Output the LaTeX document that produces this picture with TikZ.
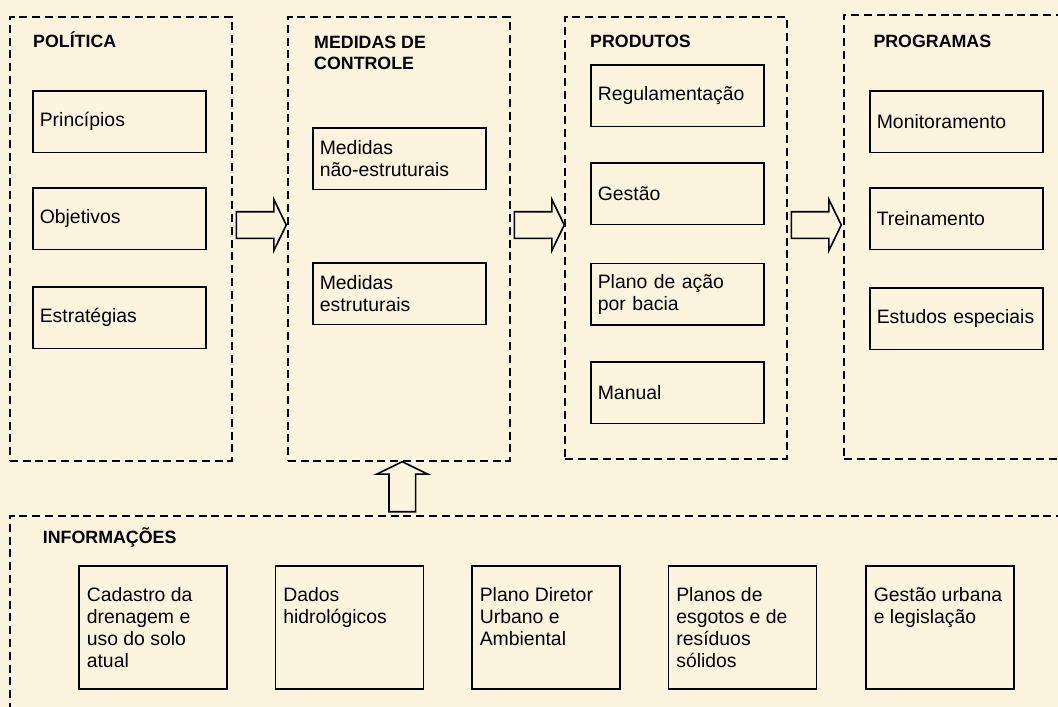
\documentclass[tikz,border=0pt]{standalone}
\usepackage{fontspec}
\setmainfont{Liberation Sans}
\usetikzlibrary{shapes.arrows,calc}
\definecolor{paper}{HTML}{FDF4E0}

\begin{document}
\begin{tikzpicture}[
    x=1pt, y=-1pt,
    every node/.style={font=\fontsize{19.4}{22}\selectfont},
    group/.style={draw, dash pattern=on 8pt off 4.8pt, line width=1.5pt, anchor=north west, minimum width=222pt, minimum height=444pt, inner sep=0pt},
    title/.style={anchor=base west, align=left, inner sep=0pt, font=\fontsize{17.8}{21.6}\selectfont\bfseries},
    box/.style={draw, line width=1.6pt, anchor=north west, minimum width=173pt, minimum height=61.5pt, text width=159pt, inner xsep=7pt, align=left},
    infobox/.style={draw, line width=1.6pt, anchor=north west, minimum width=148pt, minimum height=123pt, inner xsep=8pt, inner ysep=22pt},
    bigarrow/.style={single arrow, draw, line width=1.6pt, anchor=tail, minimum width=0pt, minimum height=50pt, inner ysep=12.5pt, inner xsep=0pt, single arrow head extend=12.25pt, single arrow tip angle=128}
]
    \fill[paper] (0,0) rectangle (1058,707);
    \useasboundingbox (0,0) rectangle (1058,707);
    \clip (0,0) rectangle (1058,707);

    % groups
    \node[group] (pol) at (9,16) {};
    \node[group] (med) at (287,16) {};
    \node[group, minimum height=442pt] (prod) at (564,16) {};
    \node[group, minimum width=240pt] (prog) at (843,14) {};
    \node[group, minimum width=1070pt, minimum height=220pt] (info) at (9,515) {};

    \node[title] (polt) at (33,47.7) {POLÍTICA};
    \node[title, anchor=north west] (medt) at (314,35.5) {MEDIDAS DE\\CONTROLE};
    \node[title] (prodt) at (590,47.7) {PRODUTOS};
    \node[title] (progt) at (873.3,47.7) {PROGRAMAS};
    \node[title] (infot) at (42.7,543.3) {INFORMAÇÕES};

    % politica
    \node[box] (princ) at (32,90) {Princípios};
    \node[box] (obj) at (32,187) {Objetivos};
    \node[box] (estr) at (32,286) {Estratégias};

    % medidas de controle
    \node[box] (naoestr) at (312,127) {Medidas\\não-estruturais};
    \node[box] (estrut) at (312,262) {Medidas\\estruturais};

    % produtos
    \node[box] (regul) at (590,64) {Regulamentação};
    \node[box] (gest) at (590,162) {Gestão};
    \node[box] (plano) at (590,262.5) {Plano de ação\\por bacia};
    \node[box] (manual) at (590,361) {Manual};

    % programas
    \node[box] (monit) at (869,90) {Monitoramento};
    \node[box] (trein) at (869,187) {Treinamento};
    \node[box] (estud) at (869,287) {Estudos especiais};

    % informacoes
    \node[infobox] (cad) at (78,565) {\parbox[t][79pt][t]{132pt}{Cadastro da\\drenagem e\\uso do solo\\atual}};
    \node[infobox] (dados) at (274.5,565) {\parbox[t][79pt][t]{132pt}{Dados\\hidrológicos}};
    \node[infobox] (pdua) at (471,565) {\parbox[t][79pt][t]{132pt}{Plano Diretor\\Urbano e\\Ambiental}};
    \node[infobox] (esg) at (667.5,565) {\parbox[t][79pt][t]{132pt}{Planos de\\esgotos e de\\resíduos\\sólidos}};
    \node[infobox] (legis) at (865,565) {\parbox[t][79pt][t]{132pt}{Gestão urbana\\e legislação}};

    % arrows
    \node[bigarrow] (a1) at ($(pol.north east)+(3,209)$) {};
    \node[bigarrow] (a2) at ($(med.north east)+(3,209)$) {};
    \node[bigarrow] (a3) at ($(prod.north east)+(3,209)$) {};
    \node[bigarrow, shape border rotate=90, inner xsep=12.5pt, inner ysep=0pt] (a4) at ($(med.south)+(3.5,51)$) {};
\end{tikzpicture}
\end{document}
